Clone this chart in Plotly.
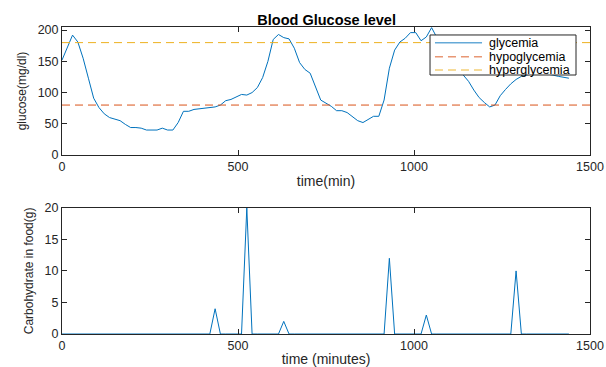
import plotly.graph_objects as go

# time grid (minutes), 15-minute samples
time_min = list(range(0, 1441, 15))

glucose = [152, 172, 192, 181, 155, 123, 91, 76, 66, 60, 57, 55, 49, 44, 44, 43,
           40, 40, 40, 43, 40, 40, 52, 70, 70, 73, 74, 76, 76, 77, 80, 87,
           89, 93, 97, 96, 100, 108, 124, 150, 185, 193, 188, 186, 171, 148, 137, 131,
           110, 88, 83, 78, 71, 71, 68, 61, 55, 52, 57, 62, 62, 88, 139, 168,
           181, 187, 196, 196, 183, 189, 204, 188, 172, 160, 148, 138, 128, 118, 104, 92,
           84, 77, 80, 95, 105, 114, 121, 126, 128, 130, 131, 131, 130, 128, 126, 124, 123]

# carbohydrate intake events (minute: grams)
carb_times = [435, 525, 630, 930, 1035, 1290]
carb_grams = [4, 20, 2, 12, 3, 10]

hypo_level = 80
hyper_level = 180
x_limits = [0, 1500]
x_ticks = [0, 500, 1000, 1500]
glucose_ticks = [0, 50, 100, 150, 200]
carb_ticks = [0, 5, 10, 15, 20]
series_names = ["glycemia", "hypoglycemia", "hyperglycemia"]

carbs = [0] * len(time_min)
for t, g in zip(carb_times, carb_grams):
    carbs[time_min.index(t)] = g

BLUE = "#0072BD"
RED = "#D95319"
YEL = "#EDB120"
AX = "#262626"
FONT = "Liberation Sans, Arial, sans-serif"
DASH = "8px,5px"

fig = go.Figure()
fig.add_trace(go.Scatter(x=time_min, y=glucose, mode="lines", name=series_names[0],
                         line=dict(color=BLUE, width=1), xaxis="x", yaxis="y"))
fig.add_trace(go.Scatter(x=x_limits, y=[hypo_level] * 2, mode="lines", name=series_names[1],
                         line=dict(color=RED, width=1, dash=DASH), xaxis="x", yaxis="y"))
fig.add_trace(go.Scatter(x=x_limits, y=[hyper_level] * 2, mode="lines", name=series_names[2],
                         line=dict(color=YEL, width=1, dash=DASH), xaxis="x", yaxis="y"))
fig.add_trace(go.Scatter(x=time_min, y=carbs, mode="lines",
                         line=dict(color=BLUE, width=1), xaxis="x2", yaxis="y2"))

axis_common = dict(showline=True, linecolor=AX, linewidth=1, mirror="ticks",
                   ticks="inside", ticklen=5, tickcolor=AX, showgrid=False,
                   zeroline=False, tickfont=dict(size=12.5, color=AX, family=FONT),
                   automargin=False)
xtitle_font = dict(size=14, color=AX, family=FONT)
ytitle_font = dict(size=12, color=AX, family=FONT)

fig.update_layout(
    width=606, height=367,
    margin=dict(l=62, r=16, t=27, b=33),
    paper_bgcolor="white", plot_bgcolor="white",
    font=dict(family=FONT, color=AX, size=12),
    showlegend=False,
    title=dict(text="<b>Blood Glucose level</b>", x=0.539, xanchor="center",
               y=0.946, yanchor="middle", font=dict(size=14.5, color="black", family=FONT)),
    xaxis=dict(domain=[0, 1], anchor="y", range=x_limits, tickvals=x_ticks,
               title=dict(text="time(min)", standoff=3, font=xtitle_font), **axis_common),
    yaxis=dict(domain=[0.583, 1], anchor="x", range=[0, 205], tickvals=glucose_ticks,
               title=dict(text="glucose(mg/dl)", standoff=8, font=ytitle_font), **axis_common),
    xaxis2=dict(domain=[0, 1], anchor="y2", range=x_limits, tickvals=x_ticks,
                title=dict(text="time (minutes)", standoff=3, font=xtitle_font), **axis_common),
    yaxis2=dict(domain=[0, 0.411], anchor="x2", range=[0, 20], tickvals=carb_ticks,
                title=dict(text="Carbohydrate in food(g)", standoff=8, font=ytitle_font), **axis_common),
)

# compact MATLAB-style legend box (paper coordinates)
lx0, lx1, ly0, ly1 = 0.697, 0.9735, 0.8436, 0.974
line_x0, line_x1, text_x = 0.7064, 0.7955, 0.8049
entry_y = [0.9489, 0.9033, 0.8599]
entry_style = [(BLUE, "solid"), (RED, DASH), (YEL, DASH)]

fig.add_shape(type="rect", xref="paper", yref="paper", x0=lx0, x1=lx1, y0=ly0, y1=ly1,
              line=dict(color=AX, width=1), fillcolor="white", layer="above")
for name, ypos, (col, dash) in zip(series_names, entry_y, entry_style):
    fig.add_shape(type="line", xref="paper", yref="paper", x0=line_x0, x1=line_x1,
                  y0=ypos, y1=ypos, line=dict(color=col, width=1.5, dash=dash),
                  opacity=0.6, layer="above")
    fig.add_annotation(xref="paper", yref="paper", x=text_x, y=ypos, text=name,
                       showarrow=False, xanchor="left", yanchor="middle",
                       font=dict(size=12.5, color="black", family=FONT))

fig.write_html("out.html")
